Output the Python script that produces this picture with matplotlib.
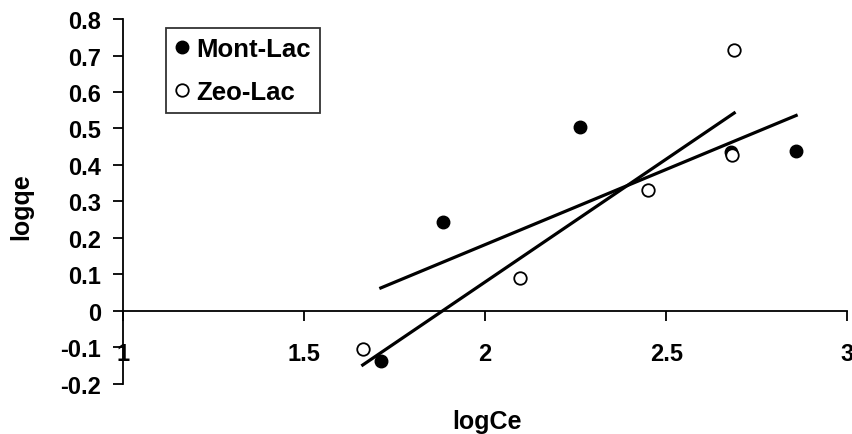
import matplotlib
matplotlib.use("Agg")
import matplotlib.pyplot as plt
import numpy as np

plt.rcParams['font.family'] = ['Liberation Sans', 'DejaVu Sans']
plt.rcParams['font.weight'] = 'bold'

# logCe / logqe
mont_x = [1.712, 1.885, 2.262, 2.680, 2.859]
mont_y = [-0.136, 0.243, 0.503, 0.436, 0.439]
zeo_x = [1.662, 2.097, 2.451, 2.688, 2.681]
zeo_y = [-0.104, 0.090, 0.332, 0.715, 0.427]

xticks = [1, 1.5, 2, 2.5, 3]
xtick_labels = ['1', '1.5', '2', '2.5', '3']
yticks = [-0.2, -0.1, 0, 0.1, 0.2, 0.3, 0.4, 0.5, 0.6, 0.7, 0.8]
ytick_labels = ['-0.2', '-0.1', '0', '0.1', '0.2', '0.3', '0.4', '0.5', '0.6', '0.7', '0.8']

fig = plt.figure(figsize=(8.53, 4.35), dpi=100)
ax = fig.add_axes([0.1442, 0.115, 0.849, 0.839])

ax.plot(mont_x, mont_y, 'o', color='black', markersize=9, label='Mont-Lac', zorder=3)
ax.plot(zeo_x, zeo_y, 'o', markerfacecolor='white', markeredgecolor='black',
        markeredgewidth=1.3, markersize=9, label='Zeo-Lac', zorder=3)

# linear trendlines (least squares, as Excel does)
for xs, ys in [(mont_x, mont_y), (zeo_x, zeo_y)]:
    k, b = np.polyfit(xs, ys, 1)
    xx = np.array([min(xs), max(xs)])
    ax.plot(xx, k * xx + b, color='black', linewidth=2.3, zorder=2)

ax.set_xlim(1, 3)
ax.set_ylim(-0.2, 0.8)

ax.spines['top'].set_visible(False)
ax.spines['right'].set_visible(False)
ax.spines['bottom'].set_position(('data', 0))
ax.spines['left'].set_linewidth(1.3)
ax.spines['bottom'].set_linewidth(1.3)

ax.set_xticks(xticks)
ax.set_xticklabels(xtick_labels)
ax.set_yticks(yticks)
ax.set_yticklabels(ytick_labels)
ax.tick_params(axis='x', direction='out', length=7, width=1.3, pad=15, labelsize=17)
ax.tick_params(axis='y', direction='out', length=7, width=1.3, pad=9, labelsize=17)

ax.set_xlabel('logCe', fontsize=18, fontweight='bold')
ax.xaxis.set_label_coords(0.502, -0.068)
ax.set_ylabel('logqe', fontsize=18, fontweight='bold')
ax.yaxis.set_label_coords(-0.124, 0.49)

leg = ax.legend(loc='upper left', bbox_to_anchor=(0.059, 0.976), fontsize=18.5,
                frameon=True, fancybox=False, edgecolor='black', handletextpad=0.25,
                handlelength=0.6, borderpad=0.35, labelspacing=0.75, borderaxespad=0)
leg.get_frame().set_linewidth(1.3)
for t in leg.get_texts():
    t.set_fontweight('bold')

fig.savefig('out.png', dpi=100)
